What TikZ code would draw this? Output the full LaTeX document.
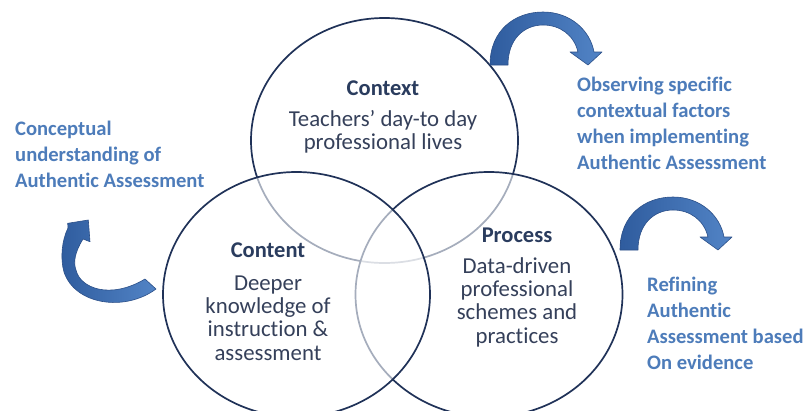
\documentclass[tikz,border=0pt]{standalone}
\usepackage{fontspec}
\setmainfont{Carlito}[Ligatures={NoCommon}]
\usetikzlibrary{shapes.geometric}
\definecolor{ring}{HTML}{203258}
\definecolor{ttl}{HTML}{2A3C5E}
\definecolor{bodytxt}{HTML}{35405A}
\definecolor{sideblue}{HTML}{4D7CBA}
\definecolor{arrdark}{HTML}{2F5C9E}
\definecolor{arrlight}{HTML}{5284C6}
\definecolor{arredge}{HTML}{2B4F88}
\tikzset{
  venn/.style={ellipse, draw=ring, line width=1.7pt, fill=white, fill opacity=0.6,
    minimum width=267pt, minimum height=245pt, inner sep=0pt},
  vtitle/.style={font={\fontsize{22.5}{24}\selectfont\bfseries}, text=ttl, inner sep=0pt},
  vbody/.style={font={\fontsize{22.8}{23.3}\selectfont}, text=bodytxt, align=center, inner sep=0pt},
  sidetxt/.style={font={\fontsize{20.6}{26}\selectfont\bfseries}, text=sideblue, align=left, inner sep=0pt, anchor=west},
  bentarrow/.style={left color=arrdark, right color=arrlight, draw=arredge, line width=0.6pt, line join=round}
}
\begin{document}
\begin{tikzpicture}[x=1pt,y=-1pt]
\useasboundingbox (0,0) rectangle (803,410);
\clip (0,0) rectangle (803,410);
\fill[white] (0,0) rectangle (803,410);
% Venn ellipses (drawn in this order: top, right, left)
\node[venn] (context) at (384.5,140.5) {};
\node[venn] (process) at (489,294.5) {};
\node[venn] (content) at (296.5,294.5) {};
% circle texts
\node[vtitle] (contextT) at (383,88) {Context};
\node[vbody] (contextB) at (383,132) {Teachers’ day-to day\\professional lives};
\node[vtitle] (contentT) at (268,250) {Content};
\node[vbody] (contentB) at (268,318) {Deeper\\knowledge of\\instruction \&\\assessment};
\node[vtitle] (processT) at (517,235) {Process};
\node[vbody] (processB) at (517,302) {Data-driven\\professional\\schemes and\\practices};
% side texts
\node[sidetxt] (concept) at (15,154) {Conceptual\\understanding of\\Authentic Assessment};
\node[sidetxt] (observe) at (577,123) {Observing specific\\contextual factors\\when implementing\\Authentic Assessment};
\node[sidetxt] (refine) at (647,323) {Refining\\Authentic\\Assessment based\\On evidence};
% top curved arrow
\path[bentarrow] (490,65) .. controls (490,30) and (515,12) .. (543,12)
  .. controls (570,12) and (590,30) .. (594,52) -- (602,52) -- (588,65) -- (570,52) -- (578,52)
  .. controls (574,35) and (560,25) .. (543,25) .. controls (525,25) and (508,38) .. (508,65) -- cycle;
% right curved arrow
\begin{scope}[shift={(130,185)}]
\path[bentarrow] (490,65) .. controls (490,30) and (515,12) .. (543,12)
  .. controls (570,12) and (590,30) .. (594,52) -- (602,52) -- (588,65) -- (570,52) -- (578,52)
  .. controls (574,35) and (560,25) .. (543,25) .. controls (525,25) and (508,38) .. (508,65) -- cycle;
\end{scope}
% left curved arrow
\path[bentarrow] (68,228) -- (67.7,223.3) -- (88.3,220) -- (90,241.7) -- (83,239)
  .. controls (75,252) and (73,262) .. (76,270) .. controls (80,288) and (110,300) .. (145,279)
  -- (156,289) .. controls (125,312) and (75,305) .. (64,272) .. controls (60,258) and (62,240) .. (68,228) -- cycle;
\end{tikzpicture}
\end{document}
